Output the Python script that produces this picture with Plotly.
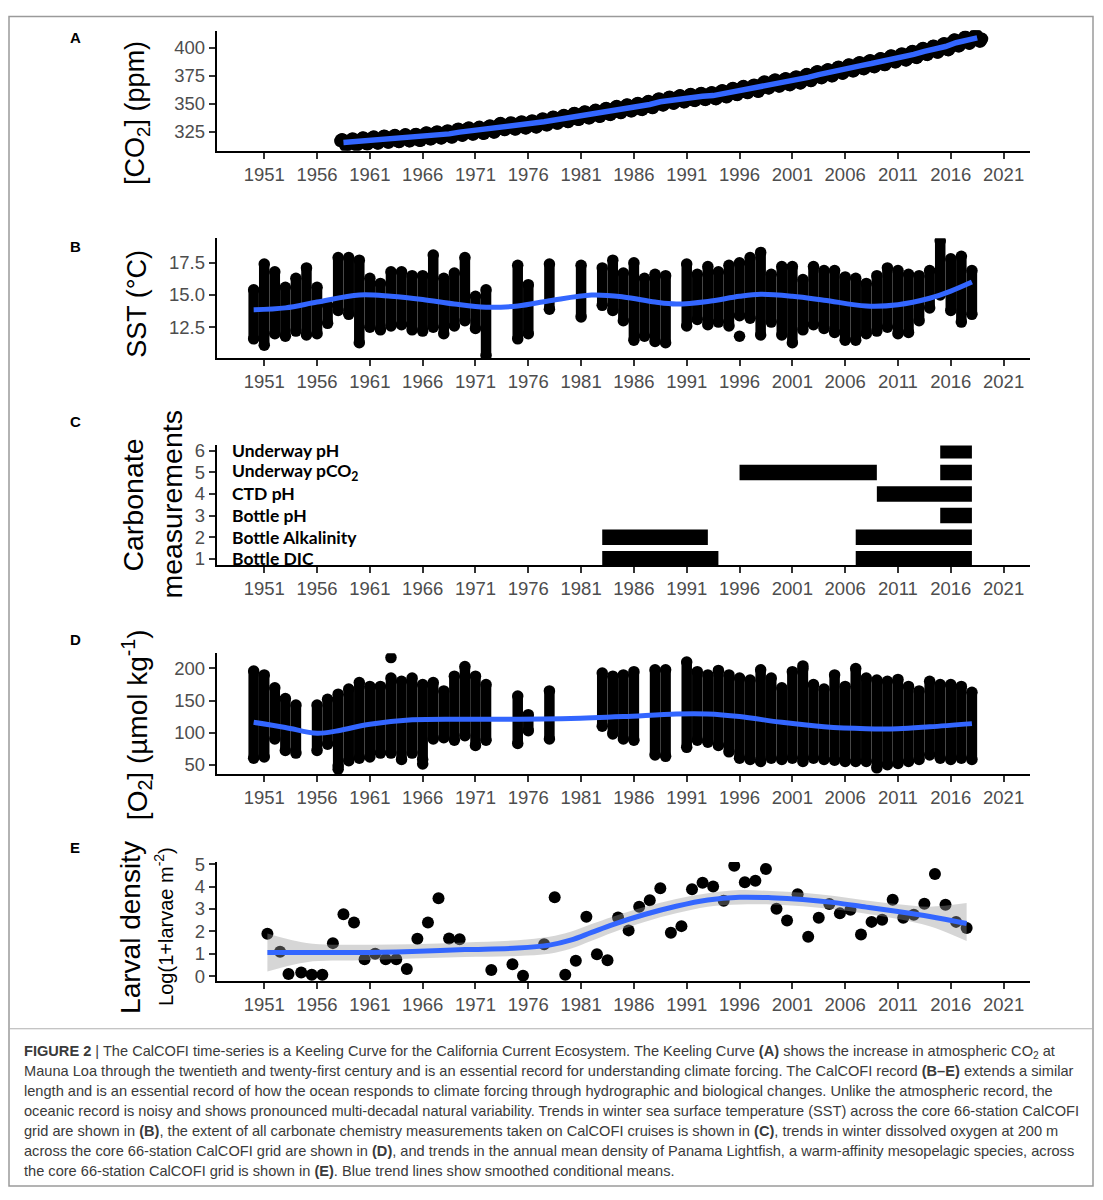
import plotly.graph_objects as go

# figure is 16 px smaller than the window so the page (8 px body margin) never overflows
W, H = 1087, 1184
OFF = 8

# ---------------- data ----------------
tick_years = [1951, 1956, 1961, 1966, 1971, 1976, 1981, 1986, 1991, 1996, 2001, 2006, 2011, 2016, 2021]

# Panel A: Mauna Loa CO2 annual means + mean seasonal cycle (ppm)
co2_years = list(range(1958, 2019))
co2_annual = [315.3, 315.98, 316.91, 317.64, 318.45, 318.99, 319.62, 320.04, 321.37, 322.18,
              323.05, 324.62, 325.68, 326.32, 327.46, 329.68, 330.19, 331.12, 332.03, 333.84,
              335.41, 336.84, 338.76, 340.12, 341.48, 343.15, 344.87, 346.35, 347.61, 349.31,
              351.69, 353.20, 354.45, 355.70, 356.54, 357.21, 358.96, 360.97, 362.74, 363.88,
              366.84, 368.54, 369.71, 371.32, 373.45, 375.98, 377.70, 379.98, 382.09, 384.02,
              385.83, 387.64, 390.10, 391.85, 394.06, 396.74, 398.81, 401.01, 404.41, 406.76,
              408.72]
co2_season = [0.0, 0.7, 1.4, 2.6, 3.0, 2.3, 0.8, -1.3, -3.1, -3.2, -1.9, -0.8]

# Panel B: winter SST per cruise (range of station values, deg C)
sst_year = [1950, 1951, 1952, 1953, 1954, 1955, 1956, 1957, 1958, 1959, 1960, 1961, 1962, 1963,
            1964, 1965, 1966, 1967, 1968, 1969, 1970, 1971, 1972, 1975, 1976, 1978, 1981, 1983,
            1984, 1985, 1986, 1987, 1988, 1989, 1991, 1992, 1993, 1994, 1995, 1996, 1997, 1998,
            1999, 2000, 2001, 2002, 2003, 2004, 2005, 2006, 2007, 2008, 2009, 2010, 2011, 2012,
            2013, 2014, 2015, 2016, 2017, 2018]
sst_hi = [15.4, 17.4, 16.8, 15.6, 16.3, 17.1, 15.6, 14.2, 17.9, 17.9, 17.7, 16.3, 15.9, 16.8,
          16.8, 16.5, 16.5, 18.1, 16.3, 16.7, 17.9, 14.9, 15.4, 17.3, 15.8, 17.4, 17.3, 17.1,
          17.7, 16.7, 17.5, 16.3, 16.6, 16.5, 17.4, 16.6, 17.2, 16.8, 17.3, 17.5, 17.9, 18.3,
          16.6, 17.2, 17.2, 16.2, 17.2, 16.9, 16.9, 16.4, 16.3, 15.9, 16.5, 17.1, 16.9, 16.6,
          16.5, 16.9, 19.2, 17.8, 18.0, 16.9]
sst_lo = [11.6, 11.1, 12.0, 11.8, 12.2, 11.9, 12.0, 12.8, 13.8, 13.5, 11.3, 12.5, 12.3, 12.6,
          12.7, 12.3, 12.2, 12.5, 12.0, 12.6, 13.0, 12.4, 10.3, 11.6, 12.0, 13.9, 13.3, 14.2,
          13.8, 13.0, 11.5, 11.8, 11.4, 11.3, 12.6, 13.1, 12.7, 12.9, 12.6, 13.4, 13.2, 11.9,
          12.9, 11.9, 11.3, 12.3, 12.7, 12.4, 12.1, 11.5, 11.5, 12.0, 12.2, 12.5, 12.0, 12.1,
          13.0, 14.0, 15.0, 13.8, 12.9, 13.5]
sst_out_year = [1996]
sst_out_val = [11.8]
sst_smooth_year = [1950, 1953, 1956, 1960, 1963, 1966, 1969, 1972, 1975, 1978, 1982, 1985,
                   1988, 1990, 1993, 1996, 1998, 2001, 2004, 2008, 2011, 2014, 2016, 2018]
sst_smooth = [13.85, 14.0, 14.45, 15.0, 14.9, 14.65, 14.3, 14.05, 14.15, 14.55, 15.0, 14.85,
              14.45, 14.3, 14.5, 14.9, 15.05, 14.9, 14.6, 14.15, 14.25, 14.75, 15.3, 16.0]

# Panel C: carbonate measurement coverage
carb_labels = ["Bottle DIC", "Bottle Alkalinity", "Bottle pH", "CTD pH",
               "Underway pCO<sub>2</sub>", "Underway pH"]
carb_row = [1, 1, 2, 2, 3, 4, 5, 5, 6]
carb_start = [1983, 2007, 1983, 2007, 2015, 2009, 1996, 2015, 2015]
carb_end = [1994, 2018, 1993, 2018, 2018, 2018, 2009, 2018, 2018]

# Panel D: winter O2 at 200 m per cruise (umol/kg)
o2_year = [1950, 1951, 1952, 1953, 1954, 1956, 1957, 1958, 1959, 1960, 1961, 1962, 1963, 1964,
           1965, 1966, 1967, 1968, 1969, 1970, 1971, 1972, 1975, 1976, 1978, 1983, 1984, 1985,
           1986, 1988, 1989, 1991, 1992, 1993, 1994, 1995, 1996, 1997, 1998, 1999, 2000, 2001,
           2002, 2003, 2004, 2005, 2006, 2007, 2008, 2009, 2010, 2011, 2012, 2013, 2014, 2015,
           2016, 2017, 2018]
o2_hi = [196, 190, 170, 153, 143, 143, 152, 160, 168, 178, 172, 172, 185, 180, 185, 175, 178,
         165, 188, 203, 188, 175, 157, 128, 165, 193, 188, 190, 195, 198, 198, 210, 195, 190,
         197, 190, 185, 182, 198, 185, 170, 195, 200, 175, 168, 190, 172, 200, 185, 182, 180,
         183, 172, 165, 180, 175, 175, 172, 163]
o2_lo = [60, 62, 90, 72, 68, 72, 82, 48, 56, 60, 62, 68, 68, 58, 68, 58, 90, 92, 88, 95, 80,
         88, 83, 103, 90, 110, 98, 90, 88, 65, 63, 77, 88, 85, 80, 70, 60, 58, 55, 60, 58, 60,
         55, 60, 58, 57, 55, 55, 55, 45, 50, 52, 55, 58, 65, 60, 58, 60, 58]
o2_out_year = [1958, 1963, 1966, 2002]
o2_out_val = [43, 217, 51, 204]
o2_smooth_year = [1950, 1953, 1956, 1958, 1961, 1965, 1970, 1975, 1980, 1985, 1990, 1993,
                  1996, 2000, 2004, 2008, 2011, 2014, 2018]
o2_smooth = [116, 108, 99, 103, 113, 120, 121, 121, 122, 125, 129, 129, 125, 116, 109, 106,
             106, 109, 114]

# Panel E: Panama Lightfish larval density
lar_year = [1951.3, 1952.5, 1953.3, 1954.5, 1955.5, 1956.5, 1957.5, 1958.5, 1959.5, 1960.5,
            1961.5, 1962.5, 1963.5, 1964.5, 1965.5, 1966.5, 1967.5, 1968.5, 1969.5, 1972.5,
            1974.5, 1975.5, 1977.5, 1978.5, 1979.5, 1980.5, 1981.5, 1982.5, 1983.5, 1984.5,
            1985.5, 1986.5, 1987.5, 1988.5, 1989.5, 1990.5, 1991.5, 1992.5, 1993.5, 1994.5,
            1995.5, 1996.5, 1997.5, 1998.5, 1999.5, 2000.5, 2001.5, 2002.5, 2003.5, 2004.5,
            2005.5, 2006.5, 2007.5, 2008.5, 2009.5, 2010.5, 2011.5, 2012.5, 2013.5, 2014.5,
            2015.5, 2016.5, 2017.5]
lar_val = [1.89, 1.09, 0.09, 0.16, 0.06, 0.06, 1.47, 2.76, 2.39, 0.75, 1.0, 0.75, 0.75, 0.31,
           1.67, 2.39, 3.48, 1.68, 1.64, 0.27, 0.53, 0.01, 1.42, 3.52, 0.06, 0.68, 2.65, 0.97,
           0.71, 2.62, 2.04, 3.1, 3.39, 3.92, 1.93, 2.23, 3.88, 4.17, 4.0, 3.36, 4.93, 4.19,
           4.26, 4.78, 3.01, 2.48, 3.66, 1.76, 2.6, 3.22, 2.8, 2.96, 1.86, 2.42, 2.51, 3.41,
           2.6, 2.74, 3.23, 4.56, 3.19, 2.42, 2.15]
lar_fit_year = [1951.3, 1955, 1960, 1965, 1970, 1975, 1978, 1980, 1982, 1984, 1987, 1990, 1993,
                1996, 1999, 2002, 2005, 2008, 2011, 2014, 2017.5]
lar_fit = [1.05, 1.05, 1.05, 1.1, 1.18, 1.25, 1.38, 1.6, 1.95, 2.3, 2.75, 3.12, 3.4, 3.52,
           3.5, 3.42, 3.28, 3.08, 2.88, 2.66, 2.35]
lar_fit_lo = [0.2, 0.62, 0.7, 0.78, 0.85, 0.9, 1.0, 1.22, 1.58, 1.95, 2.42, 2.8, 3.1, 3.2,
              3.2, 3.12, 2.98, 2.78, 2.55, 2.22, 1.56]
lar_fit_hi = [1.9, 1.48, 1.4, 1.42, 1.5, 1.6, 1.76, 1.98, 2.32, 2.65, 3.08, 3.44, 3.7, 3.84,
              3.8, 3.72, 3.58, 3.38, 3.21, 3.1, 3.26]

caption_lines = [
    "<b>FIGURE 2</b> | The CalCOFI time-series is a Keeling Curve for the California Current Ecosystem. The Keeling Curve <b>(A)</b> shows the increase in atmospheric CO<sub>2</sub> at",
    "Mauna Loa through the twentieth and twenty-first century and is an essential record for understanding climate forcing. The CalCOFI record <b>(B–E)</b> extends a similar",
    "length and is an essential record of how the ocean responds to climate forcing through hydrographic and biological changes. Unlike the atmospheric record, the",
    "oceanic record is noisy and shows pronounced multi-decadal natural variability. Trends in winter sea surface temperature (SST) across the core 66-station CalCOFI",
    "grid are shown in <b>(B)</b>, the extent of all carbonate chemistry measurements taken on CalCOFI cruises is shown in <b>(C)</b>, trends in winter dissolved oxygen at 200 m",
    "across the core 66-station CalCOFI grid are shown in <b>(D)</b>, and trends in the annual mean density of Panama Lightfish, a warm-affinity mesopelagic species, across",
    "the core 66-station CalCOFI grid is shown in <b>(E)</b>. Blue trend lines show smoothed conditional means.",
]

# ---------------- figure ----------------
BLUE = "#3366FF"
FONT = "Liberation Sans"


def px(x):
    # window pixel -> paper fraction
    return (x - OFF) / W


def py(y):
    return 1 - (y - OFF) / H


fig = go.Figure()

# A: Keeling curve
co2_x, co2_y = [], []
for yr, mean in zip(co2_years, co2_annual):
    for m, s in enumerate(co2_season):
        if yr == 1958 and m < 2:
            continue
        co2_x.append(yr + (m + 0.5) / 12)
        co2_y.append(mean + s)
fig.add_trace(go.Scatter(x=co2_x, y=co2_y, mode="markers", xaxis="x", yaxis="y",
                         marker=dict(color="black", size=12.5, line=dict(width=0))))
fig.add_trace(go.Scatter(x=[y + 0.5 for y in co2_years], y=co2_annual, mode="lines",
                         xaxis="x", yaxis="y", line=dict(color=BLUE, width=5.5)))


def columns(years, his, los):
    xs, ys = [], []
    for yr, hi, lo in zip(years, his, los):
        xs += [yr, yr, None]
        ys += [lo, hi, None]
    return xs, ys


# B: SST
bx, by = columns(sst_year, sst_hi, sst_lo)
fig.add_trace(go.Scatter(x=bx, y=by, mode="lines+markers", xaxis="x2", yaxis="y2",
                         line=dict(color="black", width=10.5),
                         marker=dict(color="black", size=11.5)))
fig.add_trace(go.Scatter(x=sst_out_year, y=sst_out_val, mode="markers", xaxis="x2", yaxis="y2",
                         marker=dict(color="black", size=11.5)))
fig.add_trace(go.Scatter(x=sst_smooth_year, y=sst_smooth, mode="lines", line_shape="spline",
                         xaxis="x2", yaxis="y2", line=dict(color=BLUE, width=5)))

# C: carbonate coverage
fig.add_trace(go.Bar(y=carb_row, base=carb_start,
                     x=[e - s for s, e in zip(carb_start, carb_end)],
                     orientation="h", width=0.72, xaxis="x3", yaxis="y3",
                     marker=dict(color="black", line=dict(width=0))))

# D: O2
dx, dy = columns(o2_year, o2_hi, o2_lo)
fig.add_trace(go.Scatter(x=dx, y=dy, mode="lines+markers", xaxis="x4", yaxis="y4",
                         line=dict(color="black", width=10.5),
                         marker=dict(color="black", size=11.5)))
fig.add_trace(go.Scatter(x=o2_out_year, y=o2_out_val, mode="markers", xaxis="x4", yaxis="y4",
                         marker=dict(color="black", size=11.5)))
fig.add_trace(go.Scatter(x=o2_smooth_year, y=o2_smooth, mode="lines", line_shape="spline",
                         xaxis="x4", yaxis="y4", line=dict(color=BLUE, width=5)))

# E: larval density
fig.add_trace(go.Scatter(x=lar_year, y=lar_val, mode="markers", xaxis="x5", yaxis="y5",
                         marker=dict(color="black", size=12)))
fig.add_trace(go.Scatter(x=lar_fit_year, y=lar_fit_hi, mode="lines", line_shape="spline",
                         xaxis="x5", yaxis="y5", line=dict(width=0, color="rgba(0,0,0,0)")))
fig.add_trace(go.Scatter(x=lar_fit_year, y=lar_fit_lo, mode="lines", line_shape="spline",
                         xaxis="x5", yaxis="y5", fill="tonexty",
                         fillcolor="rgba(153,153,153,0.4)",
                         line=dict(width=0, color="rgba(0,0,0,0)")))
fig.add_trace(go.Scatter(x=lar_fit_year, y=lar_fit, mode="lines", line_shape="spline",
                         xaxis="x5", yaxis="y5", line=dict(color=BLUE, width=5)))

# axes
xdom = [px(216.7), px(1030)]
panels = {
    "A": (22.7, 144.0, [308.2, 415.3], [325, 350, 375, 400], ["325", "350", "375", "400"]),
    "B": (232.7, 354.0, [10.1, 19.4], [12.5, 15.0, 17.5], ["12.5", "15.0", "17.5"]),
    "C": (442.2, 563.3, [0.70, 6.25], [1, 2, 3, 4, 5, 6], ["1", "2", "3", "4", "5", "6"]),
    "D": (652.3, 774.3, [35.6, 223.8], [50, 100, 150, 200], ["50", "100", "150", "200"]),
    "E": (863.3, 984.0, [-0.235, 5.1], [0, 1, 2, 3, 4, 5], ["0", "1", "2", "3", "4", "5"]),
}
tickfont = dict(family=FONT, size=18.5, color="#4d4d4d")
common = dict(ticks="outside", ticklen=6, tickwidth=1.5, tickcolor="#333333", showline=True,
              linecolor="black", linewidth=2, showgrid=False, zeroline=False, tickfont=tickfont,
              fixedrange=True)
layout_axes = {}
for i, key in enumerate(["A", "B", "C", "D", "E"]):
    top, bot, yr, tv, tt = panels[key]
    sfx = "" if i == 0 else str(i + 1)
    layout_axes["xaxis" + sfx] = dict(domain=xdom, range=[1946.5, 2023.5], tickvals=tick_years,
                                      ticktext=[str(t) for t in tick_years],
                                      anchor="y" + sfx, **common)
    layout_axes["yaxis" + sfx] = dict(domain=[py(bot), py(top)], range=yr, tickvals=tv,
                                      ticktext=tt, anchor="x" + sfx, **common)

fig.update_layout(width=W, height=H, margin=dict(l=0, r=0, t=0, b=0),
                  paper_bgcolor="white", plot_bgcolor="white", showlegend=False,
                  barmode="overlay", **layout_axes)

ann = []
# panel letters
for letter, y in zip(["A", "B", "C", "D", "E"], [30, 241, 418, 638, 849]):
    ann.append(dict(text="<b>%s</b>" % letter, x=px(75), y=py(y), xref="paper", yref="paper",
                    showarrow=False, xanchor="center", yanchor="middle",
                    font=dict(family=FONT, size=15, color="black")))

# y titles
titles = [
    ("[CO<sub>2</sub>] (ppm)", 137, 106, 27),
    ("SST (°C)", 137, 299, 27),
    ("Carbonate", 133, 503, 28.5),
    ("measurements", 172, 502, 28.5),
    ("[O<sub>2</sub>] (µmol kg<sup>-1</sup>)", 137, 725, 28),
    ("Larval density", 131, 930, 28),
    ("Log(1+larvae m<sup>-2</sup>)", 164, 929, 20),
]
for t, x, y, s in titles:
    ann.append(dict(text=t, x=px(x), y=py(y), xref="paper", yref="paper", showarrow=False,
                    textangle=-90, xanchor="center", yanchor="middle",
                    font=dict(family=FONT, size=s, color="black")))

# carbonate category labels
for r, lab in enumerate(carb_labels, start=1):
    ann.append(dict(text="<b>%s</b>" % lab, x=1947.8, y=r, xref="x3", yref="y3",
                    showarrow=False, xanchor="left", yanchor="middle",
                    font=dict(family="Lato", size=17.5, color="black")))

# caption
for i, line in enumerate(caption_lines):
    ann.append(dict(text=line, x=px(22), y=py(1055 + i * 20.2), xref="paper", yref="paper",
                    showarrow=False, xanchor="left", yanchor="middle", align="left",
                    font=dict(family=FONT, size=14.6, color="#3a3a3a")))

fig.update_layout(annotations=ann)

# frame and caption separator
fig.add_shape(type="rect", xref="paper", yref="paper", x0=px(9), x1=px(1093), y0=py(1191),
              y1=px(0) * 0 + 0.9995, line=dict(color="#9a9a9a", width=1.5),
              fillcolor="rgba(0,0,0,0)")
fig.add_shape(type="line", xref="paper", yref="paper", x0=px(9), x1=px(1093), y0=py(1032),
              y1=py(1032), line=dict(color="#b0b0b0", width=1))

fig.write_html("out.html")
